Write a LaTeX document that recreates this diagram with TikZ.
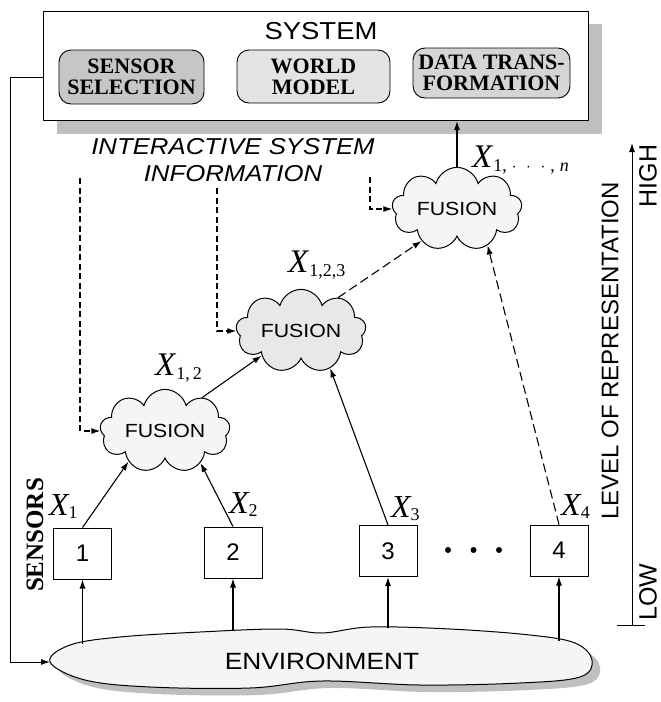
\documentclass[tikz,border=0pt]{standalone}
\usepackage{fontspec}
\setmainfont{Liberation Serif}
\setsansfont{Liberation Sans}
\newfontfamily\widesans{Liberation Sans}[FakeStretch=1.12]
\usetikzlibrary{shapes.symbols,arrows.meta}

% X label with a subscript, large and small variants
\newcommand\bigX[1]{{\fontsize{33}{33}\selectfont\itshape X}\kern1pt\raisebox{-4pt}{\fontsize{18}{18}\selectfont #1}}
\newcommand\smallX[1]{{\fontsize{32}{32}\selectfont\itshape X}\kern0pt\raisebox{-3pt}{\fontsize{18}{18}\selectfont #1}}

\tikzset{
  arr/.style={-{Latex[length=9pt,width=6pt]}, line width=1.1pt},
  dasharr/.style={arr, dash pattern=on 6pt off 3.5pt},
  longdash/.style={arr, dash pattern=on 9pt off 4.5pt},
  sensorbox/.style={draw, line width=1pt, minimum width=58pt, minimum height=51pt,
    inner sep=0pt, font=\fontsize{24}{24}\selectfont\sffamily},
  fusioncloud/.style={cloud, draw, line width=1pt, cloud puffs=9, aspect=2,
    minimum width=130pt, minimum height=66pt, inner sep=0pt,
    font=\fontsize{19}{19}\selectfont\widesans},
  modulebox/.style={draw, rounded corners=12pt, line width=0.9pt, align=center,
    inner sep=0pt, font=\fontsize{22}{22}\selectfont\bfseries},
  shadowfill/.style={fill=gray!50, draw=none},
  axislabel/.style={rotate=90, inner sep=0pt, font=\fontsize{24}{24}\selectfont\sffamily},
  plain/.style={line width=1pt},
}

\begin{document}
\begin{tikzpicture}[x=1pt, y=-1pt]
\useasboundingbox (0,0) rectangle (661,702);

% ---------------- system block ----------------
\fill[shadowfill] (57,24) rectangle (602,134);
\node[draw, fill=white, line width=1pt, minimum width=545pt, minimum height=109pt,
      inner sep=0pt] (sys) at (315.5,66) {};
\node[font=\fontsize{24.5}{24.5}\selectfont\widesans] (systitle) at (321,31) {SYSTEM};
\node[modulebox, fill=gray!45, minimum width=145pt, minimum height=54pt] (ss) at (131.5,77)
  {SENSOR\\[-1pt]SELECTION};
\node[modulebox, fill=gray!22, minimum width=153pt, minimum height=53pt] (wm) at (313.5,76.5)
  {WORLD\\[-1pt]MODEL};
\node[modulebox, fill=gray!33, minimum width=157pt, minimum height=50pt] (dt) at (491.5,73)
  {DATA TRANS-\\[-1pt]FORMATION};

\node[font=\fontsize{23}{27}\selectfont\widesans\itshape, align=center] (isi) at (233,160)
  {INTERACTIVE SYSTEM\\INFORMATION};

% ---------------- fusion clouds ----------------
\node[fusioncloud, fill=gray!8]  (f1) at (165,431) {FUSION};
\node[fusioncloud, fill=gray!18] (f2) at (301,331) {FUSION};
\node[fusioncloud, fill=gray!8]  (f3) at (457,209) {FUSION};

% ---------------- sensors ----------------
\node[sensorbox] (s1) at (82.5,553.5) {1};
\node[sensorbox] (s2) at (233,552.5) {2};
\node[sensorbox] (s3) at (388,551) {3};
\node[sensorbox] (s4) at (559,550.5) {4};
\foreach \dx in {448,473.5,499} \fill (\dx,550) circle (3pt);

% ---------------- environment ----------------
\fill[shadowfill] plot[smooth cycle, tension=0.6] coordinates {
  (58,669) (78,652) (128,644) (208,639) (288,636) (330,640) (378,634) (458,636)
  (538,642) (583,650) (600,667) (588,684) (528,690) (428,692) (330,688) (258,695)
  (158,694) (93,687)};
\filldraw[fill=gray!8, line width=1pt] plot[smooth cycle, tension=0.6] coordinates {
  (50,662) (70,645) (120,637) (200,632) (280,629) (322,633) (370,627) (450,629)
  (530,635) (575,643) (592,660) (580,677) (520,683) (420,685) (322,681) (250,688)
  (150,687) (85,680)};
\node[font=\fontsize{23.5}{23.5}\selectfont\widesans] (env) at (322,661) {ENVIRONMENT};
\coordinate (e1) at (82.5,644);
\coordinate (e2) at (233,630);
\coordinate (e3) at (388,628);
\coordinate (e4) at (559,641);
\coordinate (envtip) at (50,662);

% environment -> sensors
\draw[arr] (e1) -- (s1.south);
\draw[arr] (e2) -- (s2.south);
\draw[arr] (e3) -- (s3.south);
\draw[arr] (e4) -- (s4.south);

% sensors -> fusion
\draw[arr] (s1.north) -- (f1.-140);
\draw[arr] (s2.north) -- (f1.-42);
\draw[arr] (s3.north) -- (f2.-52);
\draw[longdash] (s4.north) -- (f3.-50);

% fusion chain
\draw[arr] (f1.42) -- (f2.-148);
\draw[longdash] (f2.42) -- (f3.-138);
\draw[arr] (f3.north) -- (f3.north |- sys.south);

% interactive system information feeds
\coordinate (i1) at (80,178);
\coordinate (i2) at (217,188);
\coordinate (i3) at (370,177);
\draw[dasharr] (i1) |- (f1.west);
\draw[dasharr] (i2) |- (f2.west);
\draw[dasharr] (i3) |- (f3.west);

% sensor selection feedback to the environment
\coordinate (fb) at (sys.west |- ss.west);
\draw[arr, line width=1pt] (fb) -- ++(-32,0) |- (envtip);

% ---------------- data labels ----------------
\node[anchor=base west, inner sep=0pt] (x1n) at (472,167)
  {\bigX{1,\;$\cdot\,\,\cdot\,\,\cdot$\;,\;\textit{n}}};
\node[anchor=base west, inner sep=0pt] (x123) at (288,272) {\bigX{1,2,3}};
\node[anchor=base west, inner sep=0pt] (x12) at (155,375) {\bigX{1,\,2}};
\node[anchor=base west, inner sep=0pt] (x1) at (49,515) {\smallX{1}};
\node[anchor=base west, inner sep=0pt] (x2) at (229,513) {\smallX{2}};
\node[anchor=base west, inner sep=0pt] (x3) at (391,517) {\smallX{3}};
\node[anchor=base west, inner sep=0pt] (x4) at (561,515) {\smallX{4}};

\node[rotate=90, font=\fontsize{25}{25}\selectfont\bfseries] (sens) at (35,535) {SENSORS};

% ---------------- level of representation axis ----------------
\coordinate (axlo) at (632,625);
\coordinate (axhi) at (632,143);
\coordinate (tickl) at (617,625);
\coordinate (tickr) at (645,625);
\draw[arr, line width=1pt] (axlo) -- (axhi);
\draw[plain] (tickl) -- (tickr);
\node[axislabel] (lvl) at (610,351) {LEVEL OF REPRESENTATION};
\node[axislabel, font=\fontsize{25}{25}\selectfont\sffamily] (hi) at (648,176) {HIGH};
\node[axislabel, font=\fontsize{25}{25}\selectfont\sffamily] (lo) at (648,592) {LOW};
\end{tikzpicture}
\end{document}
